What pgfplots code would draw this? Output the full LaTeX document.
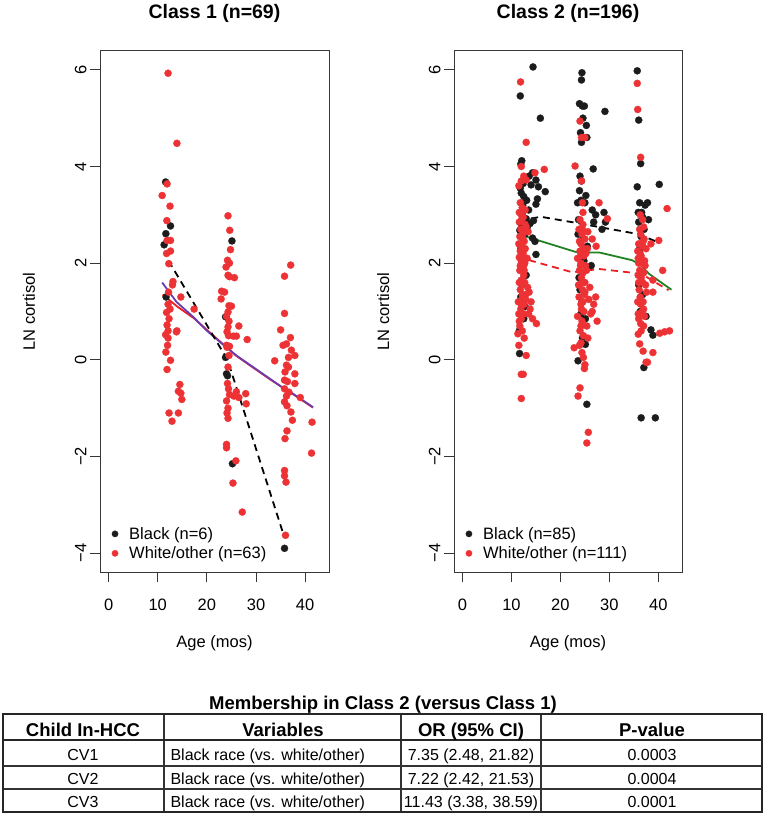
\documentclass[border=0pt]{standalone}
\usepackage{pgfplots}
\pgfplotsset{compat=1.18}
\usepackage{fontspec}
\setmainfont{Liberation Sans}
\definecolor{ptred}{RGB}{236,50,52}
\definecolor{ptblack}{RGB}{28,28,28}
\definecolor{lnpurple}{RGB}{105,60,175}
\definecolor{lngreen}{RGB}{34,130,34}
\definecolor{lnred}{RGB}{235,30,35}
\definecolor{framec}{RGB}{55,55,55}
\pgfplotsset{
  panel/.style={
    scale only axis, anchor=south west, width=229pt, height=521pt,
    xmin=-1.75, xmax=44.85, ymin=-4.39, ymax=6.39,
    axis line style={draw=framec, line width=1.0pt},
    xtick={0,10,20,30,40}, xticklabels={0,10,20,30,40},
    ytick={-4,-2,0,2,4,6}, yticklabels={−4,−2,0,2,4,6},
    tick pos=left, tick align=outside, major tick length=10pt,
    tick style={draw=framec, line width=1.0pt},
    ticklabel style={font=\fontsize{16.5}{19}\selectfont},
    xticklabel style={yshift=-13pt},
    yticklabel style={rotate=90, anchor=south},
    title style={at={(axis description cs:0.5,1.0499)}, anchor=base, font=\fontsize{19.5}{22}\selectfont\bfseries},
    xlabel style={at={(axis description cs:0.5,-0.1363)}, anchor=center, font=\fontsize{16.5}{19}\selectfont},
    ylabel style={at={(axis description cs:-0.31,0.5)}, anchor=center, font=\fontsize{16.5}{19}\selectfont},
    legend style={draw=none, fill=none, at={(rel axis cs:0.0507,0.0187)}, anchor=south west,
      font=\fontsize{16.5}{19}\selectfont, row sep=2pt, inner sep=0pt,
      /tikz/every odd column/.append style={column sep=9pt}},
    legend cell align=left,
    legend image code/.code={\draw[#1, mark size=3.2pt] plot coordinates {(0pt,0pt)};},
  },
  blackpts/.style={only marks, mark=*, mark size=3.6pt, mark options={fill=ptblack, draw=ptblack, line width=0.2pt}},
  redpts/.style={only marks, mark=*, mark size=3.6pt, mark options={fill=ptred, draw=ptred, line width=0.2pt}},
  dashline/.style={forget plot, no marks, line width=1.8pt, dash pattern=on 7pt off 5pt},
  solidline/.style={forget plot, no marks, line width=1.8pt},
}
\begin{document}
\begin{tikzpicture}
\useasboundingbox (0pt,0pt) rectangle (765pt,-818pt);
% ---------------- Class 1 ----------------
\begin{axis}[panel, at={(100pt,-572pt)}, title={Class 1 (n=69)}, xlabel={Age (mos)}, ylabel={LN cortisol}]
\addplot[blackpts] table {
x y
11.6 3.68
12.6 2.77
11.65 2.61
11.3 2.38
11.7 1.30
25.1 2.46
23.8 0.89
24.0 -0.29
24.2 -0.33
25.2 -2.15
35.8 -3.90
23.8 0.05
};
\addlegendentry{Black (n=6)}
\addplot[redpts] table {
x y
12.1 5.93
13.9 4.48
11.9 3.64
10.9 3.40
12.5 3.18
11.85 2.88
11.9 2.47
12.6 2.47
12.6 2.25
11.8 2.20
12.25 1.99
13.1 1.62
13.0 1.55
12.2 1.40
14.7 1.30
12.1 1.15
12.5 1.05
11.8 0.98
12.3 0.85
11.9 0.72
12.1 0.60
13.9 0.60
17.4 1.05
12.1 0.45
11.6 0.52
13.8 0.58
11.65 0.16
12.6 -0.01
11.9 -0.20
14.5 -0.51
14.2 -0.65
14.7 -0.69
14.9 -0.82
12.3 -1.10
14.2 -1.10
12.9 -1.27
12.0 0.30
24.3 2.98
24.65 2.68
24.8 2.28
24.2 2.06
24.6 2.00
23.9 1.92
24.3 1.75
24.6 1.72
25.6 1.70
23.0 1.42
23.6 1.40
22.9 1.26
25.0 1.11
24.5 1.12
24.3 0.99
24.0 0.90
24.5 0.80
24.3 0.68
24.1 0.58
24.4 0.50
25.4 0.49
26.0 0.49
26.5 0.70
28.2 0.42
24.0 0.30
24.6 0.28
24.1 0.26
24.5 0.09
24.3 -0.15
24.2 -0.49
24.4 -0.60
26.0 -0.66
24.6 -0.72
24.0 -0.85
24.3 -1.00
24.1 -1.10
24.3 -1.21
27.9 -0.70
28.0 -0.91
24.0 -1.75
24.0 -1.82
25.9 -2.09
25.3 -2.55
27.2 -3.15
25.5 -0.75
26.5 -0.78
37.05 1.96
35.8 1.73
35.8 0.96
35.0 0.62
37.0 0.46
36.2 0.33
35.5 0.30
37.2 0.20
37.9 0.09
33.8 -0.02
36.2 -0.11
36.6 -0.15
37.9 -0.29
35.8 -0.42
36.4 -0.45
37.9 -0.49
35.8 -0.60
36.7 -0.67
36.2 -0.75
39.0 -0.78
35.8 -0.87
36.3 -0.95
37.1 -1.08
37.4 -1.25
36.3 -1.47
35.9 -1.63
41.4 -1.29
41.3 -1.93
35.8 -2.29
35.8 -2.40
36.1 -2.53
36.0 -3.63
36.6 0.05
35.9 -0.25
};
\addlegendentry{White/other (n=63)}
\addplot[solidline, lnred] table {
x y
11.0 1.35
14.0 1.10
17.5 0.85
20.0 0.62
23.0 0.35
26.0 0.08
29.4 -0.16
32.8 -0.40
35.2 -0.56
37.5 -0.71
41.6 -0.99
};
\addplot[solidline, lnpurple] table {
x y
10.9 1.60
13.8 1.20
17.2 0.89
19.9 0.61
23.0 0.34
26.0 0.09
29.4 -0.15
32.8 -0.39
35.2 -0.56
37.5 -0.70
41.6 -0.98
};
\addplot[dashline, black] table {
x y
12.2 2.05
24.2 0.00
35.8 -3.68
};
\end{axis}
% ---------------- Class 2 ----------------
\begin{axis}[panel, at={(454pt,-572pt)}, width=228pt, title={Class 2 (n=196)}, xlabel={Age (mos)}, ylabel={LN cortisol}]
\addplot[blackpts] table {
x y
11.8 5.46
14.4 6.06
15.9 5.00
12.1 4.12
11.9 4.05
14.3 3.87
13.6 3.80
15.0 3.72
14.0 3.62
15.5 3.58
16.9 3.48
15.3 3.33
15.0 3.22
11.8 3.55
12.0 3.45
12.5 3.38
12.3 3.20
13.5 3.10
12.2 3.00
13.0 2.92
14.5 2.88
13.8 2.82
12.0 2.80
13.2 2.74
11.7 2.68
14.8 2.45
14.3 2.52
15.0 2.18
12.2 2.00
13.0 1.75
12.8 1.10
11.65 0.13
11.9 1.30
12.5 0.85
12.4 3.65
13.1 3.30
12.7 2.60
11.9 2.30
12.1 1.55
11.6 0.60
24.4 5.94
24.3 5.79
23.9 5.30
24.5 5.25
24.9 5.25
24.6 5.00
25.3 4.85
24.1 4.70
24.3 4.50
25.4 4.60
29.1 5.14
26.7 3.95
24.0 3.80
24.3 3.70
23.9 3.50
24.2 3.30
23.5 3.25
25.0 3.25
26.5 3.10
28.9 3.05
27.2 3.00
26.8 2.85
29.2 2.85
28.5 2.70
23.6 2.60
24.6 2.50
25.5 2.35
26.3 1.95
24.0 1.45
24.4 1.20
25.1 0.85
25.1 0.32
23.6 -0.02
25.4 -0.92
24.8 2.05
23.8 1.70
24.5 0.45
25.2 3.40
23.7 2.90
24.2 0.95
35.7 5.98
36.0 4.96
36.4 4.06
35.7 3.58
40.2 3.63
36.2 3.25
37.3 3.20
37.8 3.25
36.6 3.05
38.0 2.90
36.0 2.85
37.1 2.70
36.5 2.55
36.0 1.55
36.8 1.35
38.9 0.51
38.5 0.62
37.05 -0.16
36.5 -1.20
39.4 -1.20
36.2 2.30
37.5 0.90
35.9 3.05
36.8 2.95
36.3 1.00
};
\addlegendentry{Black (n=85)}
\addplot[redpts] table {
x y
11.85 5.75
13.0 4.50
12.0 4.00
12.5 3.80
12.0 3.70
11.5 3.60
13.0 3.72
14.8 3.87
16.7 3.94
11.8 3.25
12.2 3.15
11.6 3.05
12.4 2.95
12.0 2.88
12.8 2.80
11.9 2.70
13.4 2.65
12.3 2.60
11.7 2.55
12.6 2.45
11.5 2.40
12.1 2.35
11.8 2.25
12.4 2.20
11.6 2.12
12.0 2.05
12.7 2.00
12.2 1.90
11.7 1.85
12.5 1.75
12.0 1.65
12.3 1.55
11.8 1.45
13.3 1.50
13.6 1.40
12.9 1.35
12.1 1.25
12.6 1.15
14.0 1.20
11.9 1.05
12.4 0.95
13.5 0.95
14.3 0.85
15.1 0.75
12.0 0.85
11.7 0.70
12.2 0.60
11.3 0.54
13.0 0.09
12.0 -0.30
12.4 -0.30
12.0 -0.80
12.6 0.45
11.5 0.30
12.0 3.00
11.6 2.85
12.3 2.50
11.9 2.15
12.5 1.95
11.6 1.60
12.2 1.35
12.0 1.15
11.5 0.95
12.8 2.30
13.2 2.10
12.7 1.60
11.4 1.20
12.8 3.10
13.0 2.75
12.5 2.65
11.8 1.95
12.6 1.85
12.9 1.25
13.8 1.05
11.6 0.80
24.0 4.94
24.3 4.60
25.0 4.60
23.0 4.01
24.3 3.70
24.5 3.25
27.9 3.25
29.6 2.92
24.0 2.90
24.6 2.80
23.8 2.70
24.4 2.60
25.0 2.50
24.2 2.40
26.5 2.50
27.3 2.35
25.5 2.30
24.0 2.25
24.8 2.15
23.5 2.10
24.2 2.00
25.1 1.95
23.9 1.85
24.6 1.80
24.3 1.70
25.0 1.60
23.7 1.55
24.5 1.45
26.0 1.50
27.2 1.30
25.8 1.25
24.2 1.15
26.5 1.00
24.8 1.00
23.5 0.90
24.4 0.80
25.4 0.70
24.0 0.60
24.7 0.50
22.8 0.25
24.4 0.15
24.7 0.05
25.0 -0.10
24.9 -0.18
24.0 -0.58
23.6 -0.75
25.7 -1.50
25.4 -1.72
24.2 0.35
27.5 0.80
26.8 1.15
23.9 2.45
24.7 2.30
24.1 1.95
25.3 1.85
23.8 1.30
24.9 1.35
24.3 1.05
23.9 0.30
24.6 3.05
25.6 2.65
24.2 0.70
24.5 2.70
25.2 2.20
24.4 1.60
25.0 1.40
24.6 1.20
26.2 0.95
25.6 0.45
24.1 2.15
36.2 2.70
36.9 2.45
36.5 2.15
37.2 2.05
36.0 2.00
36.8 1.60
37.6 1.40
36.4 1.15
35.8 1.20
37.0 1.05
35.7 5.72
35.8 5.18
36.4 4.19
41.8 3.13
36.3 3.00
37.0 2.75
36.4 2.60
38.5 2.40
36.0 2.40
36.8 2.35
37.5 2.30
36.3 2.20
40.1 2.47
35.9 2.10
36.6 2.00
37.3 1.95
36.2 1.85
37.0 1.80
36.5 1.70
38.9 1.65
36.0 1.60
37.4 1.55
38.9 1.40
40.9 1.85
36.3 1.30
36.7 1.00
37.2 0.90
36.0 0.85
37.0 0.70
36.5 0.60
35.9 0.53
36.2 0.33
36.9 0.18
37.5 -0.05
37.8 -0.05
38.9 0.15
40.3 0.55
41.3 0.58
42.3 0.60
36.8 2.90
35.8 2.25
36.1 1.45
36.9 1.20
35.9 0.95
36.4 0.75
37.1 2.50
35.9 1.75
};
\addlegendentry{White/other (n=111)}
\addplot[dashline, black] table {
x y
11.6 2.88
16.0 2.96
24.0 2.82
30.5 2.70
36.0 2.60
39.5 2.45
};
\addplot[dashline, lnred] table {
x y
11.5 2.20
14.0 2.05
22.5 1.81
27.9 1.88
34.0 1.81
37.0 1.75
42.1 1.44
};
\addplot[solidline, lngreen] table {
x y
11.3 2.62
13.3 2.54
23.2 2.23
25.5 2.22
28.0 2.22
34.7 2.06
36.5 1.95
38.1 1.78
42.7 1.45
};
\end{axis}
% ---------------- Table ----------------
\node[anchor=base, font=\fontsize{18.5}{21}\selectfont\bfseries] at (383pt,-709.5pt) {Membership in Class 2 (versus Class 1)};
\draw[line width=1.5pt, black!80] (164pt,-714pt) -- (164pt,-812pt);
\draw[line width=1.5pt, black!80] (401pt,-714pt) -- (401pt,-812pt);
\draw[line width=1.5pt, black!80] (541pt,-714pt) -- (541pt,-812pt);
\draw[line width=1.5pt, black!80] (3pt,-766pt) -- (762pt,-766pt);
\draw[line width=1.5pt, black!80] (3pt,-789pt) -- (762pt,-789pt);
\draw[line width=2.6pt, black!85] (3pt,-740pt) -- (762pt,-740pt);
\draw[line width=2.6pt, black!85] (3pt,-714pt) rectangle (762pt,-812pt);
\begin{scope}[every node/.style={anchor=base, font=\fontsize{18.5}{21}\selectfont\bfseries}]
\node at (83pt,-736pt) {Child In-HCC};
\node at (283pt,-736pt) {Variables};
\node at (471pt,-736pt) {OR (95\% CI)};
\node at (652pt,-736pt) {P-value};
\end{scope}
\begin{scope}[every node/.style={anchor=base, font=\fontsize{16}{19}\selectfont}]
\node at (83pt,-760pt) {CV1};
\node at (83pt,-784pt) {CV2};
\node at (83pt,-807pt) {CV3};
\node[anchor=base west] at (167pt,-760pt) {Black race (vs. white/other)};
\node[anchor=base west] at (167pt,-784pt) {Black race (vs. white/other)};
\node[anchor=base west] at (167pt,-807pt) {Black race (vs. white/other)};
\node at (471pt,-760pt) {7.35 (2.48, 21.82)};
\node at (471pt,-784pt) {7.22 (2.42, 21.53)};
\node at (471pt,-807pt) {11.43 (3.38, 38.59)};
\node at (652pt,-760pt) {0.0003};
\node at (652pt,-784pt) {0.0004};
\node at (652pt,-807pt) {0.0001};
\end{scope}
\end{tikzpicture}
\end{document}
